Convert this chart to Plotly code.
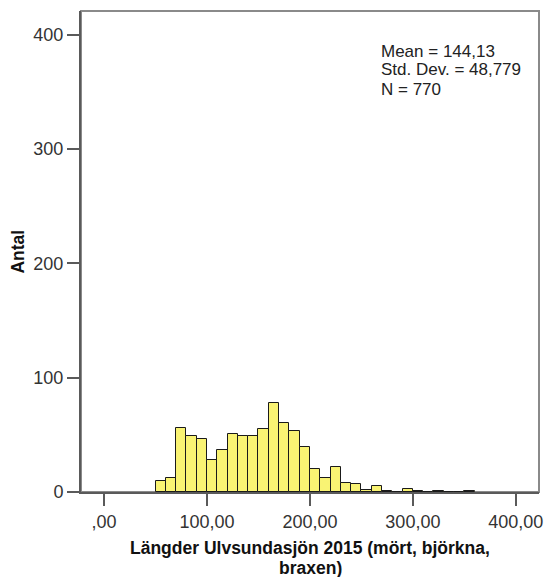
import plotly.graph_objects as go

# Histogram of fish lengths, 10 mm bins (left edges) and counts per bin
bin_left = [50, 60, 70, 80, 90, 100, 110, 120, 130, 140, 150, 160, 170, 180,
            190, 200, 210, 220, 230, 240, 250, 260, 270, 280, 290, 300, 310,
            320, 330, 340, 350]
counts = [10, 12, 56, 49, 46, 28, 37, 51, 49, 49, 55, 78, 60, 53,
          39, 20, 12, 22, 8, 7, 2, 5, 1, 0, 3, 1, 0,
          1, 0, 0, 1]
bin_width = 10

x_tickvals = [0, 100, 200, 300, 400]
x_ticktext = [",00", "100,00", "200,00", "300,00", "400,00"]
y_tickvals = [0, 100, 200, 300, 400]
y_ticktext = ["0", "100", "200", "300", "400"]

stats_lines = ["Mean = 144,13", "Std. Dev. = 48,779", "N = 770"]
x_title_lines = ["Längder Ulvsundasjön 2015 (mört, björkna,", "braxen)"]
y_title = "Antal"

W, H = 553, 577
L, R, T, B = 81, 10, 11, 85
plot_w = W - L - R
plot_h = H - T - B


def px_x(px):
    return (px - L) / plot_w


def px_y(py):
    return (H - B - py) / plot_h


FONT = "Liberation Sans, Arial, sans-serif"
AXIS_COL = "#5a5a5a"

fig = go.Figure()
fig.add_trace(go.Bar(
    x=[b + bin_width / 2 for b in bin_left],
    y=counts,
    width=bin_width,
    marker=dict(color="#F9F373", line=dict(color="#1a1a1a", width=1)),
    hoverinfo="x+y",
))

axis_common = dict(
    showgrid=False, zeroline=False, showline=True,
    linecolor=AXIS_COL, linewidth=2,
    ticks="outside", ticklen=12, tickwidth=2, tickcolor=AXIS_COL,
    tickfont=dict(family=FONT, size=18, color="#333333"),
)

fig.update_layout(
    width=W, height=H,
    margin=dict(l=L, r=R, t=T, b=B, pad=0),
    paper_bgcolor="white", plot_bgcolor="white",
    showlegend=False,
    bargap=0,
    xaxis=dict(range=[-22.4, 422.5], tickvals=x_tickvals, ticktext=x_ticktext,
               **axis_common),
    yaxis=dict(range=[0, 420.6], tickvals=y_tickvals, ticktext=y_ticktext,
               **axis_common),
    shapes=[dict(type="rect", xref="paper", yref="paper", x0=0, y0=0, x1=1, y1=1,
                 line=dict(color="#8a8a8a", width=2), layer="below")],
)

annotations = []
# summary statistics block, upper right of the plot area
for i, line in enumerate(stats_lines):
    annotations.append(dict(
        text=line, xref="paper", yref="paper",
        x=px_x(382), y=px_y(51 + 19 * i),
        xanchor="left", yanchor="middle", showarrow=False,
        font=dict(family=FONT, size=17, color="#222222"),
    ))
# two-line x-axis title
for i, line in enumerate(x_title_lines):
    annotations.append(dict(
        text="<b>" + line + "</b>", xref="paper", yref="paper",
        x=0.5, y=px_y(548 + 19.5 * i),
        xanchor="center", yanchor="middle", showarrow=False,
        font=dict(family=FONT, size=17.5, color="#111111"),
    ))
annotations.append(dict(
    text="<b>" + y_title + "</b>", xref="paper", yref="paper",
    x=px_x(17), y=px_y(252), textangle=-90,
    xanchor="center", yanchor="middle", showarrow=False,
    font=dict(family=FONT, size=17.5, color="#111111"),
))
fig.update_layout(annotations=annotations)

fig.write_html("out.html")
